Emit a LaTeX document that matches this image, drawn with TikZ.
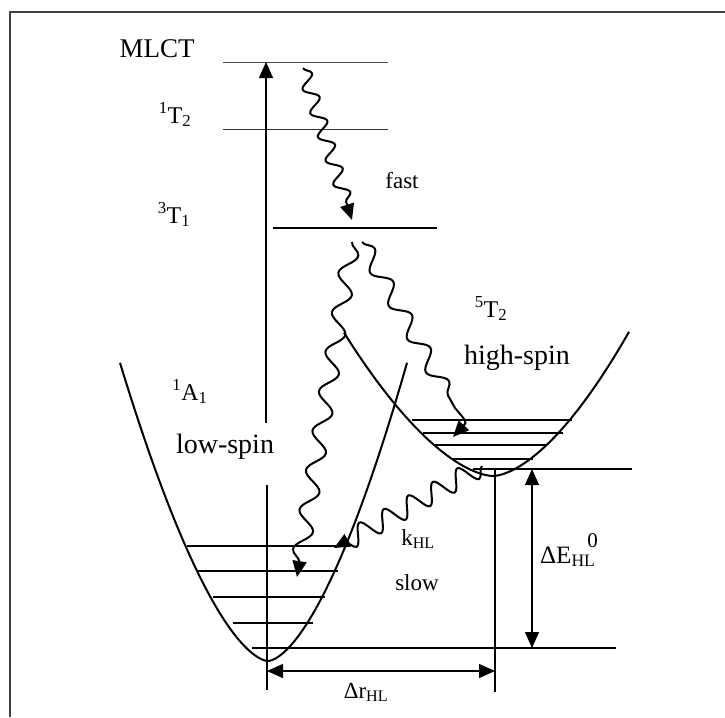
\documentclass[tikz,border=0pt]{standalone}
\usepackage{fontspec}
\setmainfont{Liberation Serif}
\usetikzlibrary{arrows.meta,decorations.pathmorphing}
\begin{document}
\begin{tikzpicture}[x=1pt,y=-1pt,
  tipend/.style={-{Triangle[length=16pt,width=14pt]}},
  bothtips/.style={{Triangle[length=16pt,width=14pt]}-{Triangle[length=16pt,width=14pt]}},
  levelline/.style={line width=1.3pt},
  potcurve/.style={line width=2pt},
  thinline/.style={line width=1.3pt},
  wavy/.style={line width=2pt, decorate, -{Triangle[length=16pt,width=14pt]}},
  lab/.style={inner sep=0pt, font=\fontsize{24}{28}\selectfont},
  biglab/.style={inner sep=0pt, font=\fontsize{28}{32}\selectfont},
  smalllab/.style={inner sep=0pt, font=\fontsize{23}{27}\selectfont}
]
\useasboundingbox (0,0) rectangle (725,717);
% frame
\draw[line width=1.8pt, black!75] (10,717) -- (10,12) -- (725,12);

% energy levels of excited states
\coordinate (mlctL) at (223,63);  \coordinate (mlctR) at (388,63);
\coordinate (ttwoL) at (223,129); \coordinate (ttwoR) at (388,129);
\coordinate (toneL) at (273,228); \coordinate (toneR) at (437,228);
\draw[line width=1pt, black!70] (mlctL) -- (mlctR);
\draw[line width=1pt, black!80] (ttwoL) -- (ttwoR);
\draw[line width=2pt] (toneL) -- (toneR);

% potential curves
\draw[potcurve] plot[domain=148:0.5, samples=70] ({268-\x},{661-0.0865*\x^1.63})
  -- plot[domain=0.5:139, samples=70] ({268+\x},{661-0.0958*\x^1.63});
\draw[potcurve] plot[domain=149:0.5, samples=70] ({493-\x},{476-0.0372*\x^1.65})
  -- plot[domain=0.5:136, samples=70] ({493+\x},{476-0.0435*\x^1.65});

% vibrational levels LS
\draw[levelline] (187,546) -- (347,546);
\draw[levelline] (198,571) -- (338,571);
\draw[levelline] (213,597) -- (325,597);
\draw[levelline] (233,623) -- (313,623);
\coordinate (lsgL) at (252,648); \coordinate (lsgR) at (616,648);
\draw[levelline] (lsgL) -- (lsgR);
% vibrational levels HS
\draw[levelline] (412,420) -- (572,420);
\draw[levelline] (423,433) -- (563,433);
\draw[levelline] (433,445) -- (547,445);
\draw[levelline] (452,459) -- (533,459);
\coordinate (hsgL) at (473,469); \coordinate (hsgR) at (632,469);
\draw[levelline] (hsgL) -- (hsgR);

% vertical lines and arrows
\coordinate (exB) at (266,423); \coordinate (exT) at (266,62);
\draw[thinline, tipend] (exB) -- (exT);
\coordinate (lsT) at (267,485); \coordinate (lsB) at (267,690);
\draw[thinline] (lsT) -- (lsB);
\coordinate (hsT) at (495,469); \coordinate (hsB) at (495,692);
\draw[thinline] (hsT) -- (hsB);
\coordinate (drL) at (267,671); \coordinate (drR) at (495,671);
\draw[thinline, bothtips] (drL) -- (drR);
\coordinate (deT) at (532,469); \coordinate (deB) at (532,648);
\draw[thinline, bothtips] (deT) -- (deB);

% wavy relaxation arrows
\coordinate (fA) at (303,68);  \coordinate (fB) at (352,220);
\draw[wavy, decoration={snake, amplitude=7pt, segment length=25pt, post length=13pt}] (fA) -- (fB);
\coordinate (lA) at (352,242); \coordinate (lB) at (297,577);
\draw[wavy, decoration={snake, amplitude=8.5pt, segment length=40pt, post length=14pt}] (lA) -- (lB);
\coordinate (hA) at (362,242); \coordinate (hB) at (455,408);
\coordinate (hC) at (467,422); \coordinate (hD) at (453,437);
\draw[line width=2pt, -{Triangle[length=16pt,width=14pt]}] (hA)
  decorate[decoration={snake, amplitude=8pt, segment length=38pt}] {-- (hB)}
  .. controls (hC) .. (hD);
\coordinate (kA) at (482,466); \coordinate (kB) at (334,548);
\draw[wavy, decoration={snake, amplitude=10pt, segment length=28pt, post length=10pt}] (kA) -- (kB);

% labels
\node[inner sep=0pt, font=\fontsize{27}{31}\selectfont, anchor=base] (mlct) at (157,57) {MLCT};
\node[lab, anchor=base] (ttwo) at (175,123) {\textsuperscript{1}T\textsubscript{2}};
\node[lab, anchor=base] (tone) at (174,223) {\textsuperscript{3}T\textsubscript{1}};
\node[lab, anchor=base] (aone) at (190,400) {\textsuperscript{1}A\textsubscript{1}};
\node[biglab] (lowspin) at (225,447) {low-spin};
\node[lab, anchor=base] (ttwohs) at (491,317) {\textsuperscript{5}T\textsubscript{2}};
\node[biglab] (highspin) at (517,358) {high-spin};
\node[smalllab] (fast) at (402,181) {fast};
\node[smalllab] (slow) at (417,583) {slow};
\node[smalllab, anchor=base] (khl) at (418,545) {k\textsubscript{HL}};
\node[inner sep=0pt, font=\fontsize{25}{29}\selectfont, anchor=base] (deltae) at (569,563)
  {ΔE\textsubscript{HL}\kern-8pt\raisebox{16pt}{\fontsize{21}{25}\selectfont 0}};
\node[inner sep=0pt, font=\fontsize{23}{27}\selectfont, anchor=base] (deltar) at (366,698)
  {Δr\textsubscript{HL}};
\end{tikzpicture}
\end{document}
